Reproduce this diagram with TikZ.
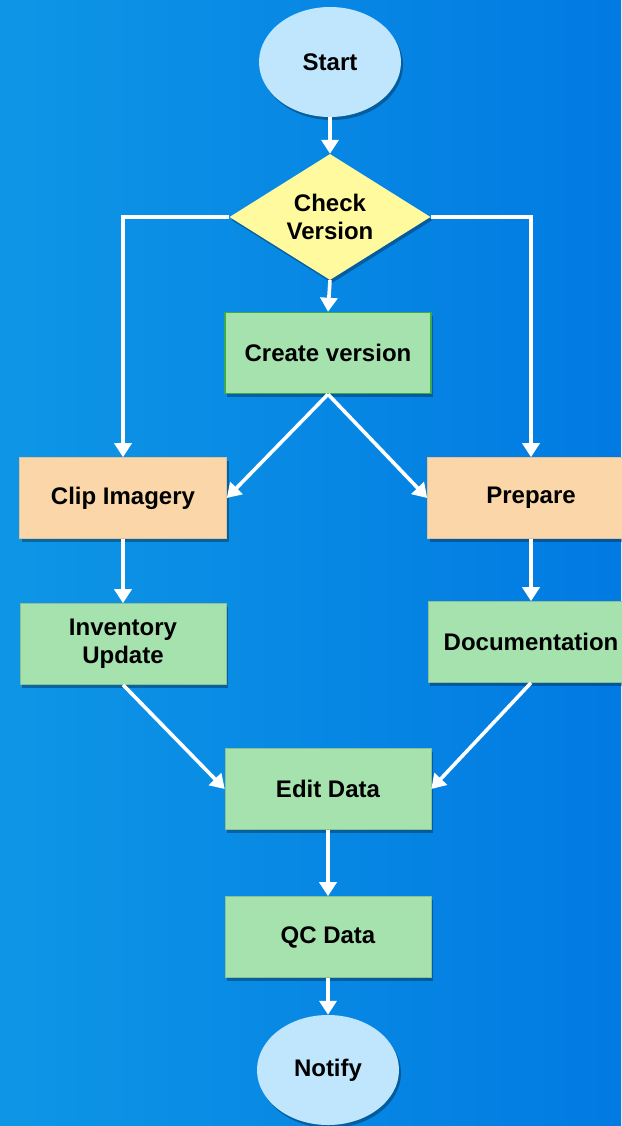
\documentclass[tikz,border=0pt]{standalone}
\usepackage{fontspec}
\setmainfont{Liberation Sans}
\usetikzlibrary{arrows.meta,shapes.geometric,shadows,positioning}
\definecolor{bgl}{RGB}{14,150,230}
\definecolor{bgr}{RGB}{1,122,226}
\definecolor{termfill}{RGB}{192,230,253}
\definecolor{decfill}{RGB}{255,250,158}
\definecolor{grnfill}{RGB}{166,226,174}
\definecolor{grnedge}{RGB}{60,170,75}
\definecolor{orgfill}{RGB}{251,214,168}
\tikzset{
  shad/.style={drop shadow={shadow xshift=2pt,shadow yshift=-3pt,opacity=0.3,fill=black}},
  lbl/.style={font=\fontsize{24}{28}\selectfont\bfseries,text=black,align=center,inner sep=0pt},
  term/.style={lbl,ellipse,fill=termfill,minimum width=142pt,minimum height=110pt,shad},
  dec/.style={lbl,diamond,fill=decfill,minimum width=201pt,minimum height=126pt,aspect=1.6,shad},
  grn/.style={lbl,rectangle,fill=grnfill,draw=grnfill!85!black,line width=0.6pt,minimum width=206pt,minimum height=81pt,shad},
  org/.style={lbl,rectangle,fill=orgfill,draw=orgfill!90!black,line width=0.6pt,minimum width=207pt,minimum height=81pt,shad},
  arr/.style={draw=white,line width=3.6pt,-{Triangle[width=17pt,length=14pt]}}
}
\begin{document}
\begin{tikzpicture}[x=1pt,y=-1pt]
\shade[left color=bgl,right color=bgr] (0,0) rectangle (621,1126);
\useasboundingbox (0,0) rectangle (621,1126);
\node[term] (start) at (330,62) {Start};
\node[dec] (check) at (330,217) {Check\\Version};
\node[grn,draw=grnedge,line width=1.5pt] (create) at (328,353) {Create version};
\node[org] (clip) at (123,498) {Clip Imagery};
\node[org] (prep) at (531,498) {Prepare};
\node[grn] (inv) at (123,644) {Inventory\\Update};
\node[grn] (doc) at (531,642) {Documentation};
\node[grn] (edit) at (328,789) {Edit Data};
\node[grn] (qc) at (328,937) {QC Data};
\node[term] (notify) at (328,1070) {Notify};
\draw[arr] (start) -- (check);
\draw[arr] (check.west) -| (clip.north);
\draw[arr] (check.east) -| (prep.north);
\draw[arr] (check.south) -- (create.north);
\draw[arr] (create.south) -- (clip.east);
\draw[arr] (create.south) -- (prep.west);
\draw[arr] (clip) -- (inv);
\draw[arr] (prep) -- (doc);
\draw[arr] (inv.south) -- (edit.west);
\draw[arr] (doc.south) -- (edit.east);
\draw[arr] (edit) -- (qc);
\draw[arr] (qc) -- (notify);
\end{tikzpicture}
\end{document}
